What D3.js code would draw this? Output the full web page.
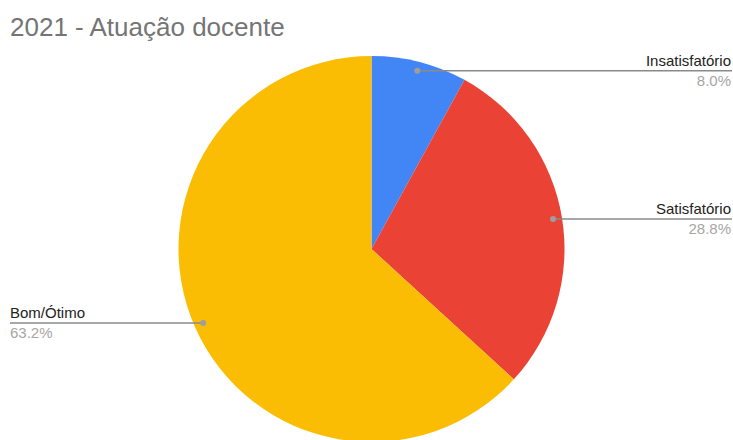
<!DOCTYPE html>
<html>
<head>
<meta charset="utf-8">
<script src="https://cdn.jsdelivr.net/npm/d3@7"></script>
<style>
  body { margin: 0; background: #fff; }
  svg { font-family: Arial, "Liberation Sans", sans-serif; }
</style>
</head>
<body>
<div id="chart"></div>
<script>
const categories = ["Insatisfatório", "Satisfatório", "Bom/Ótimo"];
const values = [8.0, 28.8, 63.2];
const colors = ["#4285f4", "#ea4335", "#fbbc04"];

const width = 733, height = 440;
const cx = 371.5, cy = 249, radius = 193;

const svg = d3.select("#chart")
    .append("svg")
    .attr("width", width)
    .attr("height", height);

svg.append("text")
    .attr("x", 10)
    .attr("y", 36)
    .attr("fill", "#757575")
    .style("font-size", "26px")
    .text("2021 - Atuação docente");

const data = categories.map((c, i) => ({ name: c, value: values[i], color: colors[i] }));

const pie = d3.pie().sort(null).value(d => d.value);
const arcs = pie(data);

const arc = d3.arc().innerRadius(0).outerRadius(radius);

const g = svg.append("g").attr("transform", `translate(${cx},${cy})`);

g.selectAll("path")
    .data(arcs)
    .join("path")
    .attr("d", arc)
    .attr("fill", d => d.data.color);

// label leaders
const dotRadius = radius * 0.953;
arcs.forEach(a => {
    const mid = (a.startAngle + a.endAngle) / 2;
    const x = cx + Math.sin(mid) * dotRadius;
    const y = cy - Math.cos(mid) * dotRadius;
    const right = Math.sin(mid) > 0;
    const endX = right ? width - 1 : 10;

    svg.append("line")
        .attr("x1", x).attr("y1", y)
        .attr("x2", endX).attr("y2", y)
        .attr("stroke", "#8a8a8a")
        .attr("stroke-width", 1.5);
    svg.append("circle")
        .attr("cx", x).attr("cy", y)
        .attr("r", 3)
        .attr("fill", "#9e9e9e");

    const tx = right ? width - 2 : 10;
    const anchor = right ? "end" : "start";
    svg.append("text")
        .attr("x", tx)
        .attr("y", y - 5)
        .attr("text-anchor", anchor)
        .attr("fill", "#222")
        .style("font-size", "15px")
        .text(a.data.name);
    svg.append("text")
        .attr("x", tx)
        .attr("y", y + 15)
        .attr("text-anchor", anchor)
        .attr("fill", "#a6a6a6")
        .style("font-size", "15px")
        .text(a.data.value.toFixed(1) + "%");
});
</script>
</body>
</html>
